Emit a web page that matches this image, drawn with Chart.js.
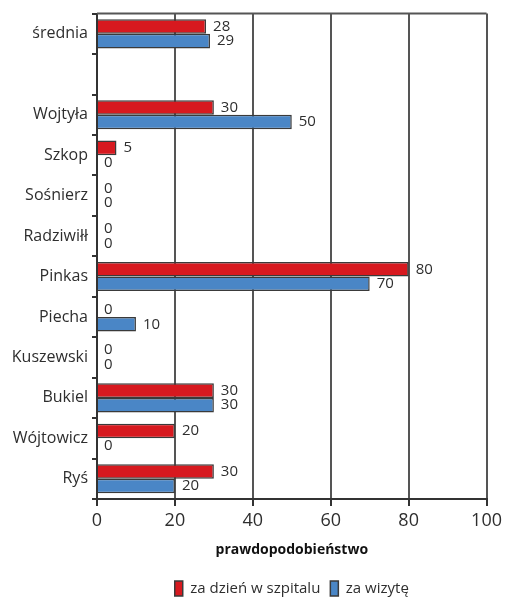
<!DOCTYPE html>
<html>
<head>
<meta charset="utf-8">
<script src="https://cdn.jsdelivr.net/npm/chart.js@4/dist/chart.umd.min.js"></script>
<style>
  html, body { margin: 0; padding: 0; background: #fff; }
  #wrap { width: 506px; height: 597px; }
</style>
</head>
<body>
<div id="wrap"><canvas id="chart"></canvas></div>
<script>
// Categories top to bottom (the blank one is a spacer row)
const names = ["średnia", "", "Wojtyła", "Szkop", "Sośnierz", "Radziwiłł", "Pinkas", "Piecha", "Kuszewski", "Bukiel", "Wójtowicz", "Ryś"];
const hospitalDay = [28, null, 30, 5, 0, 0, 80, 0, 0, 30, 20, 30];
const visit = [29, null, 50, 0, 0, 0, 70, 10, 0, 30, 0, 20];
const xTicks = [0, 20, 40, 60, 80, 100];

const FONT = "'Open Sans', Lato, sans-serif";
const TEXT = "#2e2e2e";

// Value labels to the right of each bar
const valueLabels = {
  id: "valueLabels",
  afterDatasetsDraw(chart) {
    const ctx = chart.ctx;
    ctx.save();
    ctx.font = "15px " + FONT;
    ctx.fillStyle = TEXT;
    ctx.textBaseline = "middle";
    ctx.textAlign = "left";
    chart.data.datasets.forEach((ds, i) => {
      const meta = chart.getDatasetMeta(i);
      meta.data.forEach((bar, j) => {
        const v = ds.data[j];
        if (v === null) return;
        ctx.fillText(String(v), bar.x + 7, bar.y);
      });
    });
    ctx.restore();
  }
};

// Top frame line of the plot area
const topFrame = {
  id: "topFrame",
  beforeDatasetsDraw(chart) {
    const a = chart.chartArea;
    const ctx = chart.ctx;
    ctx.save();
    ctx.strokeStyle = "#555";
    ctx.lineWidth = 2;
    ctx.beginPath();
    ctx.moveTo(a.left, a.top);
    ctx.lineTo(a.right, a.top);
    ctx.stroke();
    ctx.restore();
  }
};

new Chart(document.getElementById("chart"), {
  type: "bar",
  data: {
    labels: names,
    datasets: [
      {
        label: "za dzień w szpitalu",
        data: hospitalDay,
        backgroundColor: "#d7191f",
        borderColor: "#3a3a3a",
        borderWidth: 1.5
      },
      {
        label: "za wizytę",
        data: visit,
        backgroundColor: "#4a86c6",
        borderColor: "#3a3a3a",
        borderWidth: 1.5
      }
    ]
  },
  options: {
    indexAxis: "y",
    responsive: true,
    maintainAspectRatio: false,
    animation: false,
    layout: { padding: { top: 11, right: 18, left: 0, bottom: -9 } },
    datasets: {
      bar: { categoryPercentage: 0.72, barPercentage: 1.0 }
    },
    scales: {
      x: {
        min: 0,
        max: 100,
        afterBuildTicks(scale) {
          scale.ticks = xTicks.map((v) => ({ value: v }));
        },
        afterFit(scale) {
          scale.height = 72;
        },
        grid: {
          color: "#555",
          lineWidth: 2,
          tickLength: 7,
          tickColor: "#333"
        },
        border: { color: "#333", width: 2 },
        ticks: {
          font: { family: FONT, size: 18 },
          color: TEXT,
          padding: 4
        },
        title: {
          display: true,
          text: "prawdopodobieństwo",
          font: { family: FONT, size: 14, weight: "bold" },
          color: "#111",
          padding: { top: 4, bottom: 13 }
        }
      },
      y: {
        afterFit(scale) {
          scale.width = 97;
        },
        grid: {
          drawOnChartArea: false,
          offset: true,
          tickLength: 5,
          tickColor: "#333",
          lineWidth: 2
        },
        border: { color: "#333", width: 2 },
        ticks: {
          font: { family: FONT, size: 16 },
          color: TEXT,
          padding: 4
        }
      }
    },
    plugins: {
      legend: {
        position: "bottom",
        fullSize: false,
        labels: {
          font: { family: FONT, size: 15 },
          color: TEXT,
          boxWidth: 8,
          boxHeight: 15,
          padding: 10
        }
      },
      tooltip: { enabled: false }
    }
  },
  plugins: [valueLabels, topFrame]
});
</script>
</body>
</html>
